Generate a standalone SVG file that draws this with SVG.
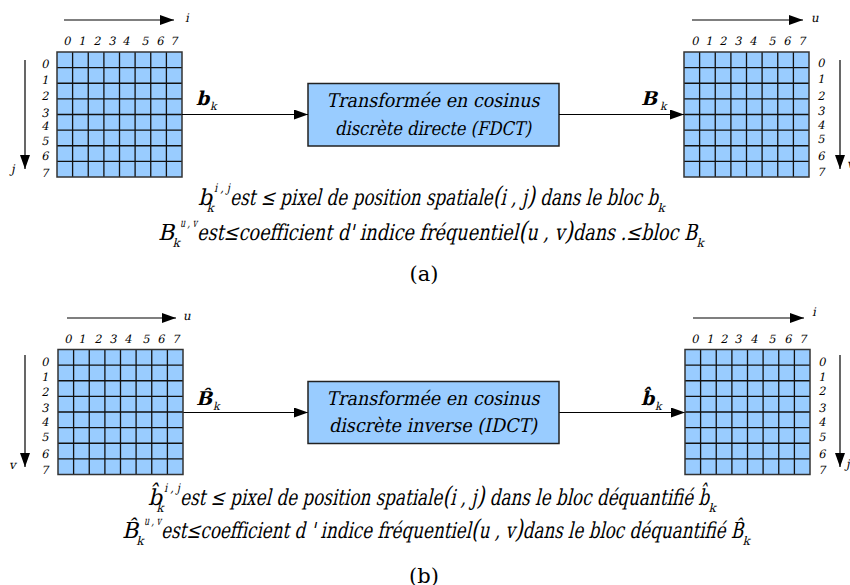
<svg xmlns="http://www.w3.org/2000/svg" xmlns:xlink="http://www.w3.org/1999/xlink" width="850" height="585" viewBox="0 0 850 585">
<style>
text{font-family:"DejaVu Serif",serif;fill:#000}
.num{font-size:11.5px;text-anchor:middle}
.ax{font-size:12px}
.box{fill:#99ccff;stroke:#222;stroke-width:1.5}
.btxt{font-size:19px;text-anchor:middle}
.lbl{font-weight:bold;font-size:19px}
.sub{font-size:11px}
.f{font-size:22px}
.fs{font-size:12px}
.p{font-size:26px}
.cap{font-size:21px;text-anchor:middle}
.conn{stroke:#000;stroke-width:1.2;fill:none;marker-end:url(#ah)}
.axis{stroke:#000;stroke-width:1.2;fill:none;marker-end:url(#ah)}
</style>
<defs>
<marker id="ah" viewBox="0 0 14 10" refX="14" refY="5" markerWidth="14" markerHeight="10" markerUnits="userSpaceOnUse" orient="auto">
<path d="M0,0 L14,5 L0,10 z" fill="#000"/>
</marker>
<g id="grid">
<rect x="0" y="0" width="125" height="125" fill="#99ccff"/>
<path d="M15.6,0V125M31.25,0V125M46.9,0V125M62.5,0V125M78.1,0V125M93.75,0V125M109.4,0V125M0,15.6H125M0,31.25H125M0,46.9H125M0,62.5H125M0,78.1H125M0,93.75H125M0,109.4H125" stroke="#111" stroke-width="1.3" fill="none"/>
<rect x="0" y="0" width="125" height="125" fill="none" stroke="#333" stroke-width="1.5"/>
</g>
</defs>
<rect width="850" height="585" fill="#fff"/>

<!-- (a) top -->
<g id="grid-a-in">
<use xlink:href="#grid" x="57" y="52"/>
<g class="num" transform="translate(0,45) skewX(-12)">
<text x="67" y="0">0</text><text x="82" y="0">1</text><text x="97" y="0">2</text><text x="112" y="0">3</text><text x="126" y="0">4</text><text x="145" y="0">5</text><text x="160" y="0">6</text><text x="174" y="0">7</text>
</g>
<g class="num">
<text transform="translate(45,68) skewX(-12)">0</text><text transform="translate(45,84) skewX(-12)">1</text><text transform="translate(45,100) skewX(-12)">2</text><text transform="translate(45,117) skewX(-12)">3</text><text transform="translate(45,130) skewX(-12)">4</text><text transform="translate(45,145) skewX(-12)">5</text><text transform="translate(45,160) skewX(-12)">6</text><text transform="translate(45,177) skewX(-12)">7</text>
</g>
<text class="ax" transform="translate(185,22) skewX(-12)">i</text>
<text class="ax" transform="translate(11,173) skewX(-12)">j</text>
</g>

<g id="grid-a-out">
<use xlink:href="#grid" x="684" y="52"/>
<g class="num" transform="translate(0,45) skewX(-12)">
<text x="695" y="0">0</text><text x="709" y="0">1</text><text x="723" y="0">2</text><text x="738" y="0">3</text><text x="753" y="0">4</text><text x="772" y="0">5</text><text x="787" y="0">6</text><text x="802" y="0">7</text>
</g>
<g class="num">
<text transform="translate(821,67) skewX(-12)">0</text><text transform="translate(821,83) skewX(-12)">1</text><text transform="translate(821,100) skewX(-12)">2</text><text transform="translate(821,115) skewX(-12)">3</text><text transform="translate(821,129) skewX(-12)">4</text><text transform="translate(821,143) skewX(-12)">5</text><text transform="translate(821,160) skewX(-12)">6</text><text transform="translate(821,176) skewX(-12)">7</text>
</g>
<text class="ax" transform="translate(811,22) skewX(-12)">u</text>
<text class="ax" transform="translate(847,168) skewX(-12)">v</text>
</g>

<g id="fdct">
<rect class="box" x="308" y="83.5" width="251" height="62.5"/>
<text class="btxt" transform="translate(433,107) skewX(-12)" textLength="213" lengthAdjust="spacingAndGlyphs">Transformée en cosinus</text>
<text class="btxt" transform="translate(433,135) skewX(-12)" textLength="196" lengthAdjust="spacingAndGlyphs">discrète directe (FDCT)</text>
</g>

<g id="connectors">
<line class="axis" x1="64" y1="20" x2="174" y2="20"/>
<line class="axis" x1="25" y1="60" x2="25" y2="169"/>
<line class="axis" x1="692" y1="20" x2="803" y2="20"/>
<line class="axis" x1="840" y1="60" x2="840" y2="169"/>
<line class="conn" x1="182" y1="114.5" x2="308" y2="114.5"/>
<line class="conn" x1="559" y1="114.5" x2="684" y2="114.5"/>
<line class="axis" x1="67" y1="318" x2="176" y2="318"/>
<line class="axis" x1="25" y1="355" x2="25" y2="467"/>
<line class="axis" x1="693" y1="318" x2="804" y2="318"/>
<line class="axis" x1="840" y1="355" x2="840" y2="467"/>
<line class="conn" x1="183" y1="412.5" x2="308" y2="412.5"/>
<line class="conn" x1="559" y1="412.5" x2="685" y2="412.5"/>
</g>

<g id="labels-a">
<text class="lbl" transform="translate(196,105) skewX(-14)">b</text><text class="sub" transform="translate(210,110) skewX(-12)">k</text>
<text class="lbl" transform="translate(641,105) skewX(-14)">B</text><text class="sub" transform="translate(660,110) skewX(-12)">k</text>
</g>

<g id="legend-a">
<g transform="translate(0,205) skewX(-13)">
<text class="f" x="198" y="0">b</text><text class="fs" x="211" y="-13" textLength="16" lengthAdjust="spacingAndGlyphs">i , j</text><text class="fs" x="208" y="7">k</text>
<text class="f" x="230" y="0" textLength="428" lengthAdjust="spacingAndGlyphs">est ≤ pixel de position spatiale<tspan class="p">(</tspan>i , j<tspan class="p">)</tspan> dans le bloc b</text><text class="fs" x="659" y="7">k</text>
</g>
<g transform="translate(0,240) skewX(-13)">
<text class="f" x="158" y="0">B</text><text class="fs" x="177" y="-13" textLength="17" lengthAdjust="spacingAndGlyphs">u , v</text><text class="fs" x="174" y="7">k</text>
<text class="f" x="197" y="0" textLength="500" lengthAdjust="spacingAndGlyphs">est≤coefficient d' indice fréquentiel<tspan class="p">(</tspan>u , v<tspan class="p">)</tspan>dans .≤bloc B</text><text class="fs" x="698" y="7">k</text>
</g>
<text class="cap" x="424" y="281">(a)</text>
</g>

<!-- (b) bottom -->
<g id="grid-b-in">
<use xlink:href="#grid" x="58" y="349.5"/>
<g class="num" transform="translate(0,343) skewX(-12)">
<text x="68" y="0">0</text><text x="82" y="0">1</text><text x="98" y="0">2</text><text x="113" y="0">3</text><text x="128" y="0">4</text><text x="146" y="0">5</text><text x="161" y="0">6</text><text x="176" y="0">7</text>
</g>
<g class="num">
<text transform="translate(45,366) skewX(-12)">0</text><text transform="translate(45,381) skewX(-12)">1</text><text transform="translate(45,396) skewX(-12)">2</text><text transform="translate(45,412) skewX(-12)">3</text><text transform="translate(45,426) skewX(-12)">4</text><text transform="translate(45,441) skewX(-12)">5</text><text transform="translate(45,458) skewX(-12)">6</text><text transform="translate(45,474) skewX(-12)">7</text>
</g>
<text class="ax" transform="translate(183,320) skewX(-12)">u</text>
<text class="ax" transform="translate(9,469) skewX(-12)">v</text>
</g>

<g id="grid-b-out">
<use xlink:href="#grid" x="685" y="349.5"/>
<g class="num" transform="translate(0,343) skewX(-12)">
<text x="695" y="0">0</text><text x="710" y="0">1</text><text x="724" y="0">2</text><text x="738" y="0">3</text><text x="754" y="0">4</text><text x="772" y="0">5</text><text x="788" y="0">6</text><text x="803" y="0">7</text>
</g>
<g class="num">
<text transform="translate(822,366) skewX(-12)">0</text><text transform="translate(822,381) skewX(-12)">1</text><text transform="translate(822,395) skewX(-12)">2</text><text transform="translate(822,412) skewX(-12)">3</text><text transform="translate(822,426) skewX(-12)">4</text><text transform="translate(822,441) skewX(-12)">5</text><text transform="translate(822,458) skewX(-12)">6</text><text transform="translate(822,474) skewX(-12)">7</text>
</g>
<text class="ax" transform="translate(812,316) skewX(-12)">i</text>
<text class="ax" transform="translate(846,468) skewX(-12)">j</text>
</g>

<g id="idct">
<rect class="box" x="308" y="381.5" width="251" height="62"/>
<text class="btxt" transform="translate(433,405) skewX(-12)" textLength="213" lengthAdjust="spacingAndGlyphs">Transformée en cosinus</text>
<text class="btxt" transform="translate(433,432) skewX(-12)" textLength="208" lengthAdjust="spacingAndGlyphs">discrète inverse (IDCT)</text>
</g>

<g id="labels-b">
<text class="lbl" transform="translate(196,405) skewX(-14)">B̂</text><text class="sub" transform="translate(213,410) skewX(-12)">k</text>
<text class="lbl" transform="translate(641,405) skewX(-14)">b̂</text><text class="sub" transform="translate(655,410) skewX(-12)">k</text>
</g>

<g id="legend-b">
<g transform="translate(0,505) skewX(-13)">
<text class="f" x="148" y="0">b̂</text><text class="fs" x="161" y="-13" textLength="16" lengthAdjust="spacingAndGlyphs">i , j</text><text class="fs" x="158" y="7">k</text>
<text class="f" x="180" y="0" textLength="529" lengthAdjust="spacingAndGlyphs">est ≤ pixel de position spatiale<tspan class="p">(</tspan>i , j<tspan class="p">)</tspan> dans le bloc déquantifié b̂</text><text class="fs" x="710" y="7">k</text>
</g>
<g transform="translate(0,538) skewX(-13)">
<text class="f" x="122" y="0">B̂</text><text class="fs" x="141" y="-13" textLength="17" lengthAdjust="spacingAndGlyphs">u , v</text><text class="fs" x="138" y="7">k</text>
<text class="f" x="161" y="0" textLength="582" lengthAdjust="spacingAndGlyphs">est≤coefficient d ' indice fréquentiel<tspan class="p">(</tspan>u , v<tspan class="p">)</tspan>dans le bloc déquantifié B̂</text><text class="fs" x="744" y="7">k</text>
</g>
<text class="cap" x="424" y="583">(b)</text>
</g>
</svg>
